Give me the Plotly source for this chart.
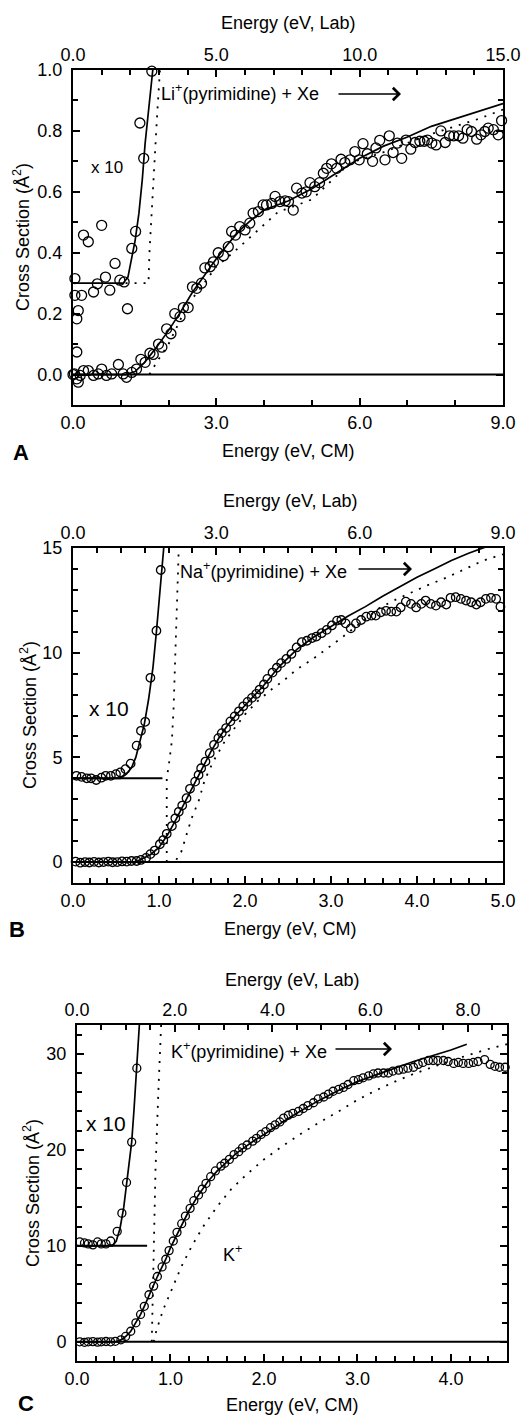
import plotly.graph_objects as go

W, H = 530, 1417
FONT = "Liberation Sans, Arial, sans-serif"

# ---------------- Panel A : Li+(pyrimidine) + Xe ----------------
a_x = [0.0, 0.03, 0.08, 0.11, 0.15, 0.22, 0.32, 0.43, 0.53, 0.60, 0.70, 0.81, 0.95, 1.05, 1.12, 1.23, 1.33,
       1.42, 1.51, 1.61, 1.68, 1.79, 1.86, 1.96, 2.05, 2.13, 2.24, 2.31, 2.41, 2.50, 2.59, 2.69, 2.76, 2.87,
       2.94, 3.04, 3.15, 3.25, 3.32, 3.40, 3.49, 3.60, 3.70, 3.77, 3.88, 3.98, 4.05, 4.16, 4.23, 4.33, 4.44,
       4.51, 4.61, 4.68, 4.79, 4.88, 4.96, 5.06, 5.16, 5.24, 5.31, 5.41, 5.52, 5.61, 5.69, 5.80, 5.90, 5.99,
       6.07, 6.16, 6.27, 6.34, 6.42, 6.53, 6.62, 6.70, 6.79, 6.88, 6.97, 7.07, 7.16, 7.26, 7.35, 7.42, 7.51,
       7.60, 7.70, 7.79, 7.88, 7.97, 8.07, 8.16, 8.25, 8.34, 8.45, 8.54, 8.62, 8.69, 8.80, 8.90, 8.97]
a_y = [0.0, 0.002, -0.014, -0.025, -0.003, 0.013, 0.013, -0.003, 0.002, 0.018, -0.003, 0.002, 0.033, 0.002,
       -0.009, 0.007, 0.018, 0.05, 0.04, 0.07, 0.066, 0.10, 0.09, 0.15, 0.134, 0.20, 0.19, 0.22, 0.22, 0.288,
       0.283, 0.30, 0.35, 0.354, 0.37, 0.40, 0.39, 0.42, 0.47, 0.458, 0.486, 0.475, 0.497, 0.53, 0.535, 0.557,
       0.557, 0.562, 0.585, 0.568, 0.57, 0.568, 0.54, 0.612, 0.596, 0.60, 0.63, 0.617, 0.63, 0.661, 0.677,
       0.692, 0.677, 0.707, 0.696, 0.705, 0.732, 0.705, 0.758, 0.725, 0.70, 0.744, 0.769, 0.705, 0.784, 0.729,
       0.76, 0.71, 0.77, 0.74, 0.762, 0.766, 0.766, 0.77, 0.76, 0.754, 0.80, 0.762, 0.784, 0.784, 0.784, 0.776,
       0.804, 0.798, 0.773, 0.787, 0.798, 0.809, 0.804, 0.787, 0.834]
a10_x = [0.04, 0.04, 0.08, 0.08, 0.11, 0.18, 0.22, 0.32, 0.43, 0.51, 0.60, 0.68, 0.77, 0.88, 0.98, 1.07,
         1.14, 1.23, 1.31, 1.40, 1.48, 1.65]
a10_y = [0.315, 0.26, 0.183, 0.074, 0.21, 0.26, 0.458, 0.436, 0.271, 0.298, 0.49, 0.32, 0.277, 0.365, 0.31,
         0.304, 0.216, 0.414, 0.47, 0.826, 0.71, 0.996]
a_fit_x = [0, 1.1, 1.3, 1.5, 1.75, 2.0, 2.25, 2.5, 2.75, 3.0, 3.25, 3.5, 3.75, 4.0, 4.25, 4.5, 5.0, 5.5, 6.0,
           6.5, 7.0, 7.5, 8.0, 8.5, 9.0]
a_fit_y = [0, 0, 0.01, 0.04, 0.09, 0.145, 0.205, 0.27, 0.325, 0.38, 0.43, 0.475, 0.51, 0.54, 0.555, 0.57,
           0.61, 0.66, 0.71, 0.75, 0.78, 0.815, 0.84, 0.865, 0.89]
a10_fit_x = [0, 1.05, 1.15, 1.23, 1.3, 1.38, 1.45, 1.51, 1.62, 1.67]
a10_fit_y = [0.3, 0.3, 0.32, 0.38, 0.44, 0.53, 0.64, 0.76, 0.92, 1.0]
a_dot_x = [1.6, 1.75, 2.0, 2.2, 2.4, 2.7, 3.0, 3.35, 3.6, 4.0, 4.3, 4.5, 5.0, 5.4, 5.8, 6.5, 7.0, 7.5, 8.0,
           8.5, 9.0]
a_dot_y = [0.0, 0.04, 0.10, 0.165, 0.23, 0.29, 0.355, 0.40, 0.435, 0.49, 0.535, 0.545, 0.575, 0.635, 0.695,
           0.73, 0.76, 0.79, 0.815, 0.84, 0.87]
a10_dot_x = [1.1, 1.58, 1.6, 1.65, 1.7, 1.76, 1.82]
a10_dot_y = [0.3, 0.3, 0.4, 0.55, 0.7, 0.85, 1.0]
a_base_x, a_base_y = [0.0, 9.0], [0.0, 0.0]

# ---------------- Panel B : Na+(pyrimidine) + Xe ----------------
b_x = [0.03, 0.085, 0.14, 0.19, 0.245, 0.30, 0.355, 0.41, 0.46, 0.515, 0.57, 0.625, 0.68, 0.74, 0.79, 0.85,
       0.90, 0.95, 1.01, 1.05, 1.09, 1.15, 1.19, 1.23, 1.27, 1.32, 1.36, 1.42, 1.46, 1.49, 1.54, 1.59, 1.64,
       1.69, 1.73, 1.78, 1.83, 1.88, 1.93, 1.98, 2.03, 2.08, 2.13, 2.17, 2.22, 2.26, 2.32, 2.37, 2.42, 2.48,
       2.54, 2.60, 2.66, 2.72, 2.78, 2.83, 2.89, 2.95, 3.01, 3.07, 3.12, 3.17, 3.23, 3.29, 3.35, 3.41, 3.47,
       3.52, 3.58, 3.64, 3.70, 3.76, 3.81, 3.87, 3.93, 3.99, 4.05, 4.10, 4.16, 4.22, 4.28, 4.34, 4.39, 4.45,
       4.51, 4.57, 4.63, 4.69, 4.74, 4.80, 4.86, 4.92, 4.97]
b_y = [0.02, -0.03, 0.0, -0.02, 0.01, -0.02, 0.0, 0.02, -0.01, 0.0, 0.03, 0.02, 0.05, 0.05, 0.1, 0.2, 0.38,
       0.55, 0.85, 1.05, 1.35, 1.72, 2.09, 2.4, 2.7, 3.05, 3.5, 3.84, 4.16, 4.48, 4.8, 5.2, 5.6, 5.92, 6.16,
       6.4, 6.72, 6.96, 7.2, 7.44, 7.65, 7.84, 8.03, 8.24, 8.48, 8.75, 9.05, 9.28, 9.5, 9.7, 9.94, 10.25,
       10.5, 10.57, 10.7, 10.77, 10.93, 11.09, 11.3, 11.53, 11.56, 11.4, 11.16, 11.4, 11.56, 11.72, 11.77,
       11.77, 11.93, 12.0, 11.96, 11.96, 12.16, 12.44, 12.33, 12.16, 12.33, 12.49, 12.33, 12.25, 12.41, 12.3,
       12.62, 12.65, 12.57, 12.49, 12.41, 12.3, 12.41, 12.57, 12.62, 12.57, 12.2]
b10_x = [0.04, 0.1, 0.16, 0.21, 0.27, 0.33, 0.38, 0.44, 0.5, 0.55, 0.61, 0.67, 0.74, 0.79, 0.84, 0.9, 0.97,
         1.02]
b10_y = [4.12, 4.07, 4.0, 4.0, 3.92, 4.03, 4.12, 4.12, 4.2, 4.28, 4.44, 4.7, 5.56, 6.27, 6.7, 8.8, 11.05,
         13.95]
b_fit_x = [0, 0.7, 0.75, 0.8, 0.9, 1.0, 1.1, 1.2, 1.3, 1.4, 1.5, 1.6, 1.7, 1.8, 1.9, 2.0, 2.2, 2.4, 2.6, 2.8,
           3.0, 3.2, 3.4, 3.6, 3.8, 4.0, 4.2, 4.4, 4.6, 4.8]
b_fit_y = [0, 0, 0.05, 0.15, 0.35, 0.7, 1.3, 2.05, 2.85, 3.65, 4.45, 5.25, 5.95, 6.55, 7.05, 7.5, 8.35, 9.35,
           10.15, 10.75, 11.25, 11.75, 12.2, 12.7, 13.15, 13.6, 14.0, 14.4, 14.75, 15.05]
b10_fit_x = [0, 0.55, 0.62, 0.68, 0.73, 0.78, 0.83, 0.88, 0.93, 0.97, 1.0, 1.03, 1.055]
b10_fit_y = [4.0, 4.0, 4.2, 4.5, 5.0, 5.8, 6.6, 7.8, 9.3, 11.0, 12.5, 14.0, 15.0]
b_dot_x = [1.1, 1.2, 1.26, 1.32, 1.38, 1.46, 1.53, 1.63, 1.77, 1.88, 2.0, 2.15, 2.31, 2.46, 2.6, 2.79, 3.12,
           3.57, 3.76, 4.11, 4.35, 4.56, 4.77, 5.0]
b_dot_y = [0, 0.1, 0.5, 1.3, 2.1, 2.9, 3.9, 4.8, 5.8, 6.4, 7.05, 7.7, 8.25, 8.7, 9.2, 9.7, 10.7, 12.15,
           12.55, 13.2, 13.6, 14.0, 14.4, 14.7]
b10_dot_x = [1.09, 1.09, 1.11, 1.15, 1.17, 1.19, 1.21, 1.23]
b10_dot_y = [0.0, 4.05, 4.5, 5.8, 7.4, 9.8, 12.5, 15.0]
b_base_x, b_base_y = [0.0, 5.0], [0.0, 0.0]
b10_base_x, b10_base_y = [0.0, 1.04], [4.0, 4.0]

# ---------------- Panel C : K+(pyrimidine) + Xe ----------------
c_x = [0.03, 0.08, 0.12, 0.17, 0.22, 0.26, 0.31, 0.36, 0.41, 0.47, 0.52, 0.575, 0.63, 0.68, 0.72, 0.77,
       0.82, 0.86, 0.91, 0.95, 0.985, 1.03, 1.07, 1.12, 1.16, 1.21, 1.25, 1.30, 1.34, 1.38, 1.43, 1.48, 1.54,
       1.58, 1.63, 1.68, 1.73, 1.77, 1.82, 1.88, 1.92, 1.97, 2.02, 2.07, 2.12, 2.17, 2.21, 2.26, 2.31, 2.37,
       2.42, 2.47, 2.53, 2.58, 2.64, 2.69, 2.74, 2.80, 2.85, 2.90, 2.96, 3.01, 3.06, 3.12, 3.17, 3.22, 3.28,
       3.33, 3.38, 3.44, 3.49, 3.54, 3.60, 3.65, 3.70, 3.76, 3.81, 3.86, 3.92, 3.97, 4.03, 4.08, 4.13, 4.19,
       4.24, 4.29, 4.36, 4.42, 4.47, 4.52, 4.58]
c_y = [0.0, -0.05, 0.0, 0.02, -0.03, 0.0, 0.03, 0.0, 0.05, 0.21, 0.56, 1.1, 1.98, 2.85, 3.7, 4.9, 5.8, 6.8,
       7.8, 8.6, 9.5, 10.5, 11.4, 12.3, 13.1, 13.9, 14.7, 15.3, 15.9, 16.5, 17.2, 17.8, 18.3, 18.6, 19.0,
       19.5, 19.8, 20.2, 20.5, 20.9, 21.2, 21.6, 21.9, 22.3, 22.6, 22.9, 23.3, 23.6, 23.8, 24.0, 24.3, 24.6,
       24.9, 25.3, 25.5, 25.8, 26.1, 26.3, 26.5, 26.8, 27.2, 27.3, 27.5, 27.7, 27.9, 28.0, 28.0, 28.0, 28.2,
       28.3, 28.4, 28.5, 28.6, 28.9, 29.1, 29.3, 29.3, 29.3, 29.3, 29.2, 29.0, 29.1, 29.0, 29.0, 29.1, 29.2,
       29.4, 28.9, 28.7, 28.6, 28.6]
c10_x = [0.03, 0.08, 0.12, 0.17, 0.22, 0.26, 0.31, 0.36, 0.43, 0.48, 0.53, 0.585, 0.64]
c10_y = [10.4, 10.3, 10.2, 10.1, 10.4, 10.2, 10.2, 10.5, 11.5, 13.4, 16.6, 20.8, 28.5]
c_fit_x = [0, 0.42, 0.47, 0.52, 0.575, 0.63, 0.68, 0.72, 0.77, 0.82, 0.86, 0.91, 0.95, 1.0, 1.1, 1.2, 1.3,
           1.4, 1.5, 1.6, 1.7, 1.8, 1.9, 2.0, 2.2, 2.4, 2.6, 2.8, 3.0, 3.2, 3.4, 3.6, 3.8, 4.0, 4.17]
c_fit_y = [0, 0, 0.2, 0.55, 1.1, 1.95, 2.85, 3.7, 4.85, 5.8, 6.8, 7.8, 8.6, 9.8, 11.8, 13.7, 15.3, 16.7,
           17.8, 18.7, 19.6, 20.3, 21.0, 21.6, 22.9, 24.1, 25.2, 26.2, 27.1, 27.8, 28.5, 29.2, 29.8, 30.4, 31.0]
c10_fit_x = [0, 0.38, 0.42, 0.46, 0.5, 0.53, 0.56, 0.585, 0.61, 0.64, 0.667]
c10_fit_y = [10, 10, 10.5, 11.8, 14.0, 16.4, 18.8, 20.8, 24.2, 28.5, 33.0]
c_dot_x = [0.82, 0.85, 0.92, 1.03, 1.12, 1.23, 1.35, 1.5, 1.65, 1.8, 2.0, 2.2, 2.4, 2.6, 2.8, 3.0, 3.2, 3.4,
           3.6, 3.8, 4.0, 4.2, 4.4, 4.6]
c_dot_y = [0, 1.2, 3.3, 5.8, 7.9, 10.0, 12.0, 14.1, 15.9, 17.3, 19.0, 20.4, 21.7, 22.9, 24.0, 25.2, 26.2,
           27.1, 27.9, 28.6, 29.3, 29.9, 30.5, 31.0]
c10_dot_x = [0.80, 0.81, 0.82, 0.84, 0.87, 0.90]
c10_dot_y = [0, 5, 10, 18, 26, 33]
c_base_x, c_base_y = [0.0, 4.6], [0.0, 0.0]
c10_base_x, c10_base_y = [0.0, 0.75], [10.0, 10.0]

# ---------------- axes settings ----------------
cm_ranges = [[0, 9.0], [0, 5.0], [0, 4.6]]
lab_ranges = [[0, 15.0], [0, 9.0], [0, 8.8]]
y_ranges = [[-0.1, 1.0], [-1, 15], [-2, 33]]
cm_dtick, cm_minor = [3.0, 1.0, 1.0], [1.0, 0.2, 0.2]
lab_dtick, lab_minor = [5.0, 3.0, 2.0], [1.0, 0.5, 0.5]
y_dtick, y_minor = [0.2, 5, 10], [0.1, 1, 2]
y_fmt = [".1f", "d", "d"]
boxes = [(73, 503, 70, 405), (73, 503, 548, 883), (77, 507, 1025, 1361)]  # pixel boxes
marker_sizes = [10, 8.5, 8]

panels = [
    dict(main=(a_x, a_y), x10=(a10_x, a10_y), fit=(a_fit_x, a_fit_y), fit10=(a10_fit_x, a10_fit_y),
         dot=(a_dot_x, a_dot_y), dot10=(a10_dot_x, a10_dot_y), base=(a_base_x, a_base_y), base10=None),
    dict(main=(b_x, b_y), x10=(b10_x, b10_y), fit=(b_fit_x, b_fit_y), fit10=(b10_fit_x, b10_fit_y),
         dot=(b_dot_x, b_dot_y), dot10=(b10_dot_x, b10_dot_y), base=(b_base_x, b_base_y),
         base10=(b10_base_x, b10_base_y)),
    dict(main=(c_x, c_y), x10=(c10_x, c10_y), fit=(c_fit_x, c_fit_y), fit10=(c10_fit_x, c10_fit_y),
         dot=(c_dot_x, c_dot_y), dot10=(c10_dot_x, c10_dot_y), base=(c_base_x, c_base_y),
         base10=(c10_base_x, c10_base_y)),
]


def pp(px, py):
    return px / W, 1 - py / H


fig = go.Figure()
DOT = "2px,7px"
for i, p in enumerate(panels):
    xa = "x" if i == 0 else f"x{2 * i + 1}"
    xt = f"x{2 * i + 2}"
    ya = "y" if i == 0 else f"y{i + 1}"
    common = dict(xaxis=xa, yaxis=ya, showlegend=False, hoverinfo="skip")
    fig.add_trace(go.Scatter(x=lab_ranges[i], y=[None, None], mode="lines", xaxis=xt, yaxis=ya,
                             showlegend=False, hoverinfo="skip", line=dict(color="rgba(0,0,0,0)")))
    fig.add_trace(go.Scatter(x=p["base"][0], y=p["base"][1], mode="lines",
                             line=dict(color="black", width=2), **common))
    if p["base10"] is not None:
        fig.add_trace(go.Scatter(x=p["base10"][0], y=p["base10"][1], mode="lines",
                                 line=dict(color="black", width=2), **common))
    for key in ("dot", "dot10"):
        fig.add_trace(go.Scatter(x=p[key][0], y=p[key][1], mode="lines",
                                 line=dict(color="black", width=1.8, dash=DOT), **common))
    for key in ("fit", "fit10"):
        fig.add_trace(go.Scatter(x=p[key][0], y=p[key][1], mode="lines",
                                 line=dict(color="black", width=1.7), **common))
    for key in ("main", "x10"):
        fig.add_trace(go.Scatter(x=p[key][0], y=p[key][1], mode="markers", cliponaxis=False,
                                 marker=dict(symbol="circle-open", size=marker_sizes[i], color="black",
                                             line=dict(width=1.3, color="black")), **common))

tickfont = dict(family=FONT, size=18, color="black")
layout = dict(template="none", width=W, height=H, margin=dict(l=0, r=0, t=0, b=0, pad=0, autoexpand=False),
              plot_bgcolor="white", paper_bgcolor="white", font=dict(family=FONT, color="black"),
              showlegend=False)
for i in range(3):
    x0, x1, y0, y1 = boxes[i]
    xd = [x0 / W, x1 / W]
    yd = [1 - y1 / H, 1 - y0 / H]
    bn = "xaxis" if i == 0 else f"xaxis{2 * i + 1}"
    tn = f"xaxis{2 * i + 2}"
    yn = "yaxis" if i == 0 else f"yaxis{i + 1}"
    bref = "x" if i == 0 else f"x{2 * i + 1}"
    yref = "y" if i == 0 else f"y{i + 1}"
    axbase = dict(showline=True, linewidth=2, linecolor="black", ticks="inside", ticklen=7, tickwidth=1.5,
                  tickcolor="black", showgrid=False, zeroline=False, tickfont=tickfont, automargin=False)
    layout[bn] = dict(axbase, domain=xd, anchor=yref, range=cm_ranges[i], dtick=cm_dtick[i], tick0=0,
                      tickformat=".1f",
                      minor=dict(dtick=cm_minor[i], ticks="inside", ticklen=5, tickwidth=1.5,
                                 tickcolor="black", showgrid=False))
    layout[tn] = dict(axbase, overlaying=bref, side="top", anchor=yref, range=lab_ranges[i],
                      dtick=lab_dtick[i], tick0=0, tickformat=".1f",
                      minor=dict(dtick=lab_minor[i], ticks="inside", ticklen=5, tickwidth=1.5,
                                 tickcolor="black", showgrid=False))
    layout[yn] = dict(axbase, domain=yd, anchor=bref, range=y_ranges[i], dtick=y_dtick[i], tick0=0,
                      tickformat=y_fmt[i], mirror="ticks", ticklabelstandoff=5,
                      minor=dict(dtick=y_minor[i], ticks="inside", ticklen=5, tickwidth=1.5,
                                 tickcolor="black", showgrid=False))
fig.update_layout(**layout)

annotations = []


def txt(s, px, py, size=18, xanchor="center", angle=0, bold=False):
    x, y = pp(px, py)
    annotations.append(dict(text=f"<b>{s}</b>" if bold else s, x=x, y=y, xref="paper", yref="paper",
                            xanchor=xanchor, yanchor="middle", showarrow=False, textangle=angle,
                            font=dict(family=FONT, size=size, color="black")))


def arrow(px0, px1, py):
    x, y = pp(px1, py)
    annotations.append(dict(text="", x=x, y=y, xref="paper", yref="paper", ax=-(px1 - px0), ay=0,
                            axref="pixel", ayref="pixel", showarrow=True, arrowhead=4, arrowsize=1.6,
                            arrowwidth=1.5, arrowcolor="black"))


title_pos = [(288, 23, 288, 451, 22, 237), (290, 501, 290, 929, 28, 715), (292, 980, 292, 1405, 31, 1193)]
for (tx_, ty, bx_, by, lx, ly) in title_pos:
    txt("Energy (eV, Lab)", tx_, ty)
    txt("Energy (eV, CM)", bx_, by)
    txt("Cross Section (Å<sup>2</sup>)", lx, ly, angle=-90)

txt("A", 21, 453, size=22, bold=True)
txt("B", 17, 929, size=22, bold=True)
txt("C", 26, 1403, size=22, bold=True)

txt("Li<sup>+</sup>(pyrimidine) + Xe", 159, 93, xanchor="left")
arrow(337, 401, 94)
txt("x 10", 89, 167, size=17, xanchor="left")

txt("Na<sup>+</sup>(pyrimidine) + Xe", 178, 570, xanchor="left")
arrow(357, 412, 569)
txt("x 10", 87, 708, size=21, xanchor="left")

txt("K<sup>+</sup>(pyrimidine) + Xe", 169, 1050, xanchor="left")
arrow(334, 392, 1049)
txt("x 10", 84, 1123, size=21, xanchor="left")
txt("K<sup>+</sup>", 221, 1253, xanchor="left")

fig.update_layout(annotations=annotations)

fig.write_html("out.html", config={"displayModeBar": False},
               post_script="document.body.style.margin='0px';document.body.style.overflow='hidden';")
